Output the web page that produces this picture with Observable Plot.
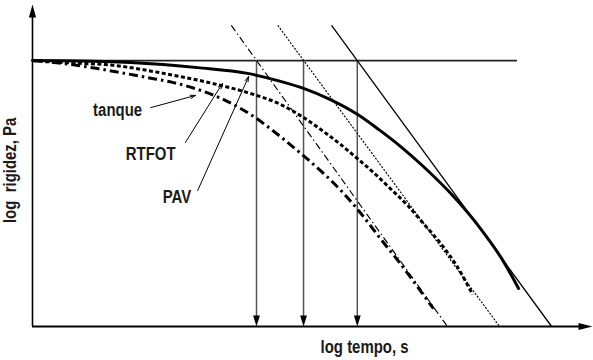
<!DOCTYPE html>
<html>
<head>
<meta charset="utf-8">
<script src="https://cdn.jsdelivr.net/npm/d3@7"></script>
<script src="https://cdn.jsdelivr.net/npm/@observablehq/plot@0.6"></script>
<style>
html, body { margin: 0; padding: 0; background: #fff; }
#chart svg { display: block; }
</style>
</head>
<body>
<div id="chart"></div>
<script>
// log time (arbitrary units) and log stiffness (arbitrary units)
const tanqueT = [0, 0.55, 1.16, 2.05, 2.50, 2.95, 3.45, 3.95, 4.38, 4.79, 5.20, 5.54, 5.88, 6.21, 6.54, 6.86, 7.16];
const tanqueS = [8.31, 8.22, 8.06, 7.78, 7.63, 7.41, 7.06, 6.56, 6.00, 5.41, 4.78, 4.19, 3.50, 2.75, 2.03, 1.28, 0.56];

const rtfotT = [0, 0.55, 1.45, 2.34, 3.23, 3.84, 4.43, 4.84, 5.20, 5.50, 5.80, 6.09, 6.39, 6.70, 6.98, 7.29, 7.57, 7.86];
const rtfotS = [8.31, 8.25, 8.16, 7.91, 7.59, 7.31, 6.94, 6.53, 6.09, 5.69, 5.25, 4.81, 4.31, 3.78, 3.22, 2.59, 1.91, 1.00];

const pavT = [0, 0.86, 1.75, 2.95, 3.84, 4.43, 4.84, 5.32, 5.80, 6.18, 6.57, 6.98, 7.52, 8.00, 8.39, 8.68];
const pavS = [8.31, 8.30, 8.25, 8.09, 7.91, 7.66, 7.44, 7.09, 6.63, 6.16, 5.63, 5.00, 4.06, 3.06, 2.09, 1.19];

// glassy modulus (horizontal line) and its extent in log time
const glassyS = 8.31;
const glassyEndT = 8.66;

// asymptotes (viscous flow lines): start/end log time and log stiffness
const asymNames = ["tanque", "RTFOT", "PAV"];
const asymT1 = [3.55, 4.38, 5.34];
const asymS1 = [9.41, 9.41, 9.41];
const asymT2 = [7.41, 8.34, 9.27];
const asymS2 = [0, 0, 0];

// crossover times (where the asymptotes meet the glassy modulus)
const crossT = [4.00, 4.84, 5.80];

// curve labels with arrows
const labelNames = ["tanque", "RTFOT", "PAV"];
const labelT = [1.52, 2.11, 2.58];
const labelS = [6.75, 5.38, 4.03];
const arrowT1 = [2.11, 2.73, 2.95];
const arrowS1 = [6.84, 5.75, 4.25];
const arrowT2 = [2.91, 3.39, 3.86];
const arrowS2 = [7.22, 7.59, 7.81];

const xTitle = "log tempo, s";
const yTitle = "log  rigidez, Pa";

const toRows = (T, S) => T.map((t, i) => ({t, s: S[i]}));
const asym = asymNames.map((n, i) => ({n, t1: asymT1[i], s1: asymS1[i], t2: asymT2[i], s2: asymS2[i]}));
const labels = labelNames.map((n, i) => ({n, t: labelT[i], s: labelS[i], t1: arrowT1[i], s1: arrowS1[i], t2: arrowT2[i], s2: arrowS2[i]}));

const FONT = "'Liberation Sans', Arial, sans-serif";

const chart = Plot.plot({
  width: 593,
  height: 360,
  marginLeft: 32,
  marginRight: 1,
  marginTop: 6,
  marginBottom: 34,
  x: {domain: [0, 10], axis: null},
  y: {domain: [0, 10], axis: null},
  style: {background: "#fff", overflow: "visible"},
  marks: [
    // axes
    Plot.ruleX([0], {x: d => d, y1: () => 0, y2: () => 9.75, stroke: "#000", strokeWidth: 1.6}),
    Plot.ruleY([0], {y: d => d, x1: () => 0, x2: () => 9.8, stroke: "#000", strokeWidth: 1.8}),
    Plot.vector([0], {x: () => 0, y: () => 10.06, rotate: 0, length: 13, r: 3.6, shape: "spike", anchor: "end", fill: "#000", stroke: "none"}),
    Plot.vector([0], {x: () => 10, y: () => 0, rotate: 90, length: 14, r: 3.6, shape: "spike", anchor: "end", fill: "#000", stroke: "none"}),

    // glassy modulus line
    Plot.ruleY([glassyS], {y: d => d, x1: () => 0, x2: () => glassyEndT, stroke: "#222", strokeWidth: 1.8}),

    // vertical arrows at crossover times
    Plot.ruleX(crossT, {x: d => d, y1: () => glassyS, y2: () => 0.2, stroke: "#555", strokeWidth: 1.5}),
    Plot.vector(crossT, {x: d => d, y: () => 0, rotate: 180, length: 11, r: 3.4, shape: "spike", anchor: "end", fill: "#000", stroke: "none"}),

    // asymptotes
    Plot.link(asym.filter(d => d.n === "tanque"), {x1: "t1", y1: "s1", x2: "t2", y2: "s2", stroke: "#000", strokeWidth: 1.15, strokeDasharray: "7,3,1.5,3", strokeLinecap: "butt"}),
    Plot.link(asym.filter(d => d.n === "RTFOT"), {x1: "t1", y1: "s1", x2: "t2", y2: "s2", stroke: "#000", strokeWidth: 1.15, strokeDasharray: "2,1.5", strokeLinecap: "butt"}),
    Plot.link(asym.filter(d => d.n === "PAV"), {x1: "t1", y1: "s1", x2: "t2", y2: "s2", stroke: "#000", strokeWidth: 1.3}),

    // master curves
    Plot.line(toRows(tanqueT, tanqueS), {x: "t", y: "s", curve: "monotone-x", stroke: "#000", strokeWidth: 3, strokeDasharray: "9,4,2.5,4", strokeLinecap: "butt"}),
    Plot.line(toRows(rtfotT, rtfotS), {x: "t", y: "s", curve: "monotone-x", stroke: "#000", strokeWidth: 3, strokeDasharray: "4,2.5", strokeLinecap: "butt"}),
    Plot.line(toRows(pavT, pavS), {x: "t", y: "s", curve: "monotone-x", stroke: "#000", strokeWidth: 3}),

    // label arrows and labels
    Plot.arrow(labels, {x1: "t1", y1: "s1", x2: "t2", y2: "s2", stroke: "#000", strokeWidth: 1, headLength: 8, headAngle: 35}),
    Plot.text(labels, {x: "t", y: "s", text: "n", fontSize: 18, fontWeight: "bold", fontFamily: FONT, fill: "#1a1a1a", className: "narrow"}),

    // axis titles
    Plot.text([xTitle], {x: () => 5.93, y: () => -0.66, text: d => d, fontSize: 18, fontWeight: "bold", fontFamily: FONT, fill: "#1a1a1a"}),
    Plot.text([yTitle], {x: () => -0.39, y: () => 4.88, text: d => d, rotate: -90, fontSize: 18, fontWeight: "bold", fontFamily: FONT, fill: "#1a1a1a"})
  ]
});
document.getElementById("chart").appendChild(chart);

// condense the bold labels to mimic the narrow typeface of the original
d3.select(chart).selectAll("text").each(function () {
  const w = this.getComputedTextLength();
  if (w > 0) {
    this.setAttribute("textLength", (w * 0.83).toFixed(1));
    this.setAttribute("lengthAdjust", "spacingAndGlyphs");
  }
});
</script>
</body>
</html>
